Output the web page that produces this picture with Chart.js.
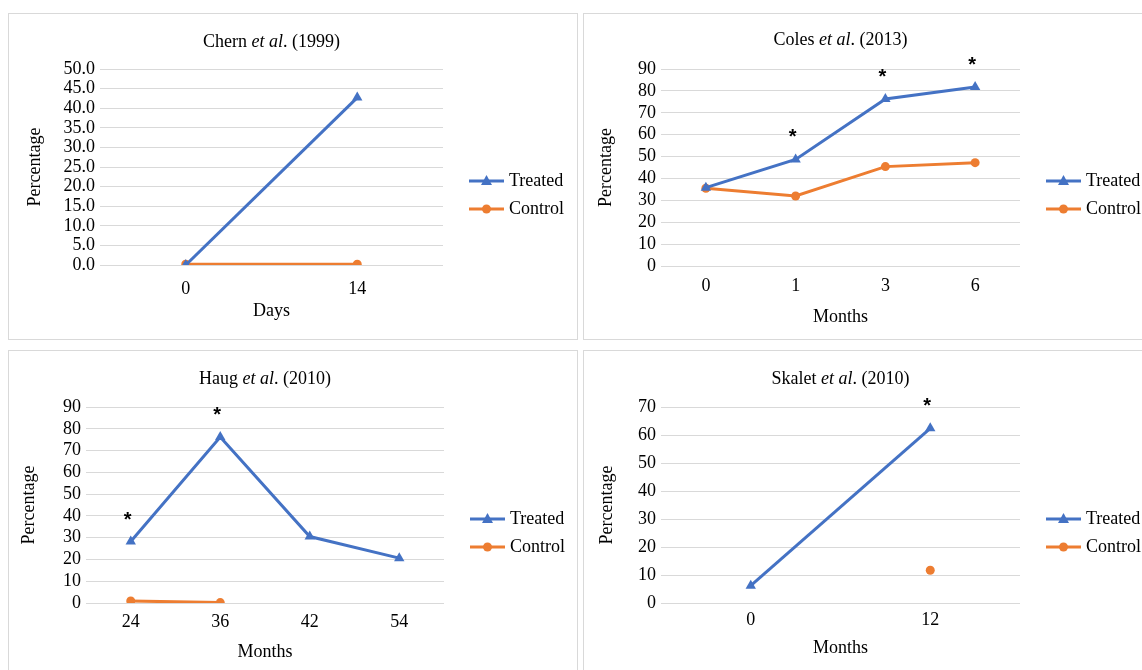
<!DOCTYPE html>
<html>
<head>
<meta charset="utf-8">
<script src="https://cdn.jsdelivr.net/npm/chart.js@4"></script>
<style>
  body { margin: 0; background: #fff; }
  canvas { position: absolute; outline: 1px solid #d9d9d9; }
</style>
</head>
<body>
<canvas id="chern" width="568" height="325" style="left:9px;top:14px"></canvas>
<canvas id="coles" width="558" height="325" style="left:584px;top:14px"></canvas>
<canvas id="haug" width="568" height="319" style="left:9px;top:351px"></canvas>
<canvas id="skalet" width="558" height="319" style="left:584px;top:351px"></canvas>
<script>
// data
var chernLabels = ['0', '14'];
var chernTreated = [0, 42.7];
var chernControl = [0.2, 0.2];
var chernStars = [false, false];

var colesLabels = ['0', '1', '3', '6'];
var colesTreated = [35.8, 48.7, 76.3, 81.8];
var colesControl = [35.5, 32, 45.4, 47.2];
var colesStars = [false, true, true, true];

var haugLabels = ['24', '36', '42', '54'];
var haugTreated = [28.2, 76.2, 30.5, 20.6];
var haugControl = [0.9, 0.2, null, null];
var haugStars = [true, true, false, false];

var skaletLabels = ['0', '12'];
var skaletTreated = [6.2, 62.4];
var skaletControl = [null, 11.7];
var skaletStars = [false, true];

var seriesNames = ['Treated', 'Control'];

var blue = '#4472C4';
var orange = '#ED7D31';
var FONT = "'Liberation Serif', 'Times New Roman', serif";

Chart.defaults.font.family = FONT;
Chart.defaults.font.size = 18;
Chart.defaults.color = '#000';

// title with italic "et al" + asterisks + legend with line and marker
var extras = {
  id: 'extras',
  afterDraw: function(chart) {
    var ctx = chart.ctx;
    var area = chart.chartArea;
    var o = chart.options.plugins.extras;
    ctx.save();

    // title
    var parts = o.title;
    var w = 0;
    parts.forEach(function(p) {
      ctx.font = (p.italic ? 'italic ' : '') + '18px ' + FONT;
      w += ctx.measureText(p.text).width;
    });
    var x = (area.left + area.right) / 2 - w / 2;
    ctx.fillStyle = '#000';
    ctx.textBaseline = 'middle';
    ctx.textAlign = 'left';
    parts.forEach(function(p) {
      ctx.font = (p.italic ? 'italic ' : '') + '18px ' + FONT;
      ctx.fillText(p.text, x, o.titleY);
      x += ctx.measureText(p.text).width;
    });

    // asterisks above treated points
    var meta = chart.getDatasetMeta(0);
    ctx.font = 'bold 20px "Liberation Sans", Arial, sans-serif';
    ctx.textAlign = 'center';
    ctx.textBaseline = 'alphabetic';
    o.stars.forEach(function(s, i) {
      if (!s) return;
      var pt = meta.data[i];
      ctx.fillText('*', pt.x - 3, pt.y - 16);
    });

    // legend
    var lx = area.right + 26;
    chart.data.datasets.forEach(function(ds, i) {
      var ly = area.top + 112 + i * 28;
      ctx.strokeStyle = ds.borderColor;
      ctx.lineWidth = 3;
      ctx.beginPath();
      ctx.moveTo(lx, ly);
      ctx.lineTo(lx + 35, ly);
      ctx.stroke();
      ctx.fillStyle = ds.backgroundColor;
      ctx.beginPath();
      if (ds.pointStyle === 'triangle') {
        ctx.moveTo(lx + 17.5, ly - 6);
        ctx.lineTo(lx + 23, ly + 4);
        ctx.lineTo(lx + 12, ly + 4);
      } else {
        ctx.arc(lx + 17.5, ly, 4.5, 0, Math.PI * 2);
      }
      ctx.fill();
      ctx.fillStyle = '#000';
      ctx.font = '18px ' + FONT;
      ctx.textAlign = 'left';
      ctx.textBaseline = 'middle';
      ctx.fillText(ds.label, lx + 40, ly);
    });
    ctx.restore();
  }
};

function makePanel(id, cfg) {
  var canvas = document.getElementById(id);
  var W = canvas.width, H = canvas.height;
  return new Chart(canvas, {
    type: 'line',
    data: {
      labels: cfg.labels,
      datasets: [{
        label: seriesNames[0],
        data: cfg.treated,
        borderColor: blue,
        backgroundColor: blue,
        borderWidth: 3,
        pointStyle: 'triangle',
        pointRadius: 6,
        pointBorderWidth: 0,
        tension: 0
      }, {
        label: seriesNames[1],
        data: cfg.control,
        borderColor: orange,
        backgroundColor: orange,
        borderWidth: 3,
        pointStyle: 'circle',
        pointRadius: 4.5,
        pointBorderWidth: 0,
        tension: 0
      }]
    },
    options: {
      responsive: false,
      animation: false,
      layout: {
        padding: { top: cfg.top, left: cfg.padLeft, right: W - cfg.right, bottom: 0 }
      },
      plugins: {
        legend: { display: false },
        tooltip: { enabled: false },
        extras: { title: cfg.title, titleY: cfg.titleY, stars: cfg.stars }
      },
      scales: {
        x: {
          offset: true,
          grid: { display: false },
          border: { display: false },
          ticks: { padding: cfg.xTickPad, maxRotation: 0, autoSkip: false },
          title: { display: true, text: cfg.xTitle, padding: { top: 0, bottom: cfg.xTitlePad } },
          afterFit: function(s) { s.height = H - cfg.bottom; }
        },
        y: {
          min: 0,
          max: cfg.max,
          grid: { color: '#d9d9d9', drawTicks: false },
          border: { display: false },
          ticks: {
            stepSize: cfg.step,
            padding: 5,
            autoSkip: false,
            callback: cfg.fmt || function(v) { return v; }
          },
          title: { display: true, text: 'Percentage', padding: 0 },
          afterFit: function(s) { s.width = cfg.left - cfg.padLeft; }
        }
      }
    },
    plugins: [extras]
  });
}

makePanel('chern', {
  labels: chernLabels, treated: chernTreated, control: chernControl, stars: chernStars,
  title: [{text: 'Chern '}, {text: 'et al', italic: true}, {text: '. (1999)'}],
  titleY: 28, top: 55, bottom: 251, left: 91, right: 434, padLeft: 15,
  max: 50, step: 5, fmt: function(v) { return v.toFixed(1); },
  xTitle: 'Days', xTickPad: 5, xTitlePad: 17
});

makePanel('coles', {
  labels: colesLabels, treated: colesTreated, control: colesControl, stars: colesStars,
  title: [{text: 'Coles '}, {text: 'et al', italic: true}, {text: '. (2013)'}],
  titleY: 26, top: 55, bottom: 252, left: 77, right: 436, padLeft: 11,
  max: 90, step: 10,
  xTitle: 'Months', xTickPad: 1, xTitlePad: 11
});

makePanel('haug', {
  labels: haugLabels, treated: haugTreated, control: haugControl, stars: haugStars,
  title: [{text: 'Haug '}, {text: 'et al', italic: true}, {text: '. (2010)'}],
  titleY: 28, top: 56, bottom: 252, left: 77, right: 435, padLeft: 9,
  max: 90, step: 10,
  xTitle: 'Months', xTickPad: 0, xTitlePad: 7
});

makePanel('skalet', {
  labels: skaletLabels, treated: skaletTreated, control: skaletControl, stars: skaletStars,
  title: [{text: 'Skalet '}, {text: 'et al', italic: true}, {text: '. (2010)'}],
  titleY: 28, top: 56, bottom: 252, left: 77, right: 436, padLeft: 12,
  max: 70, step: 10,
  xTitle: 'Months', xTickPad: -2, xTitlePad: 11
});
</script>
</body>
</html>
